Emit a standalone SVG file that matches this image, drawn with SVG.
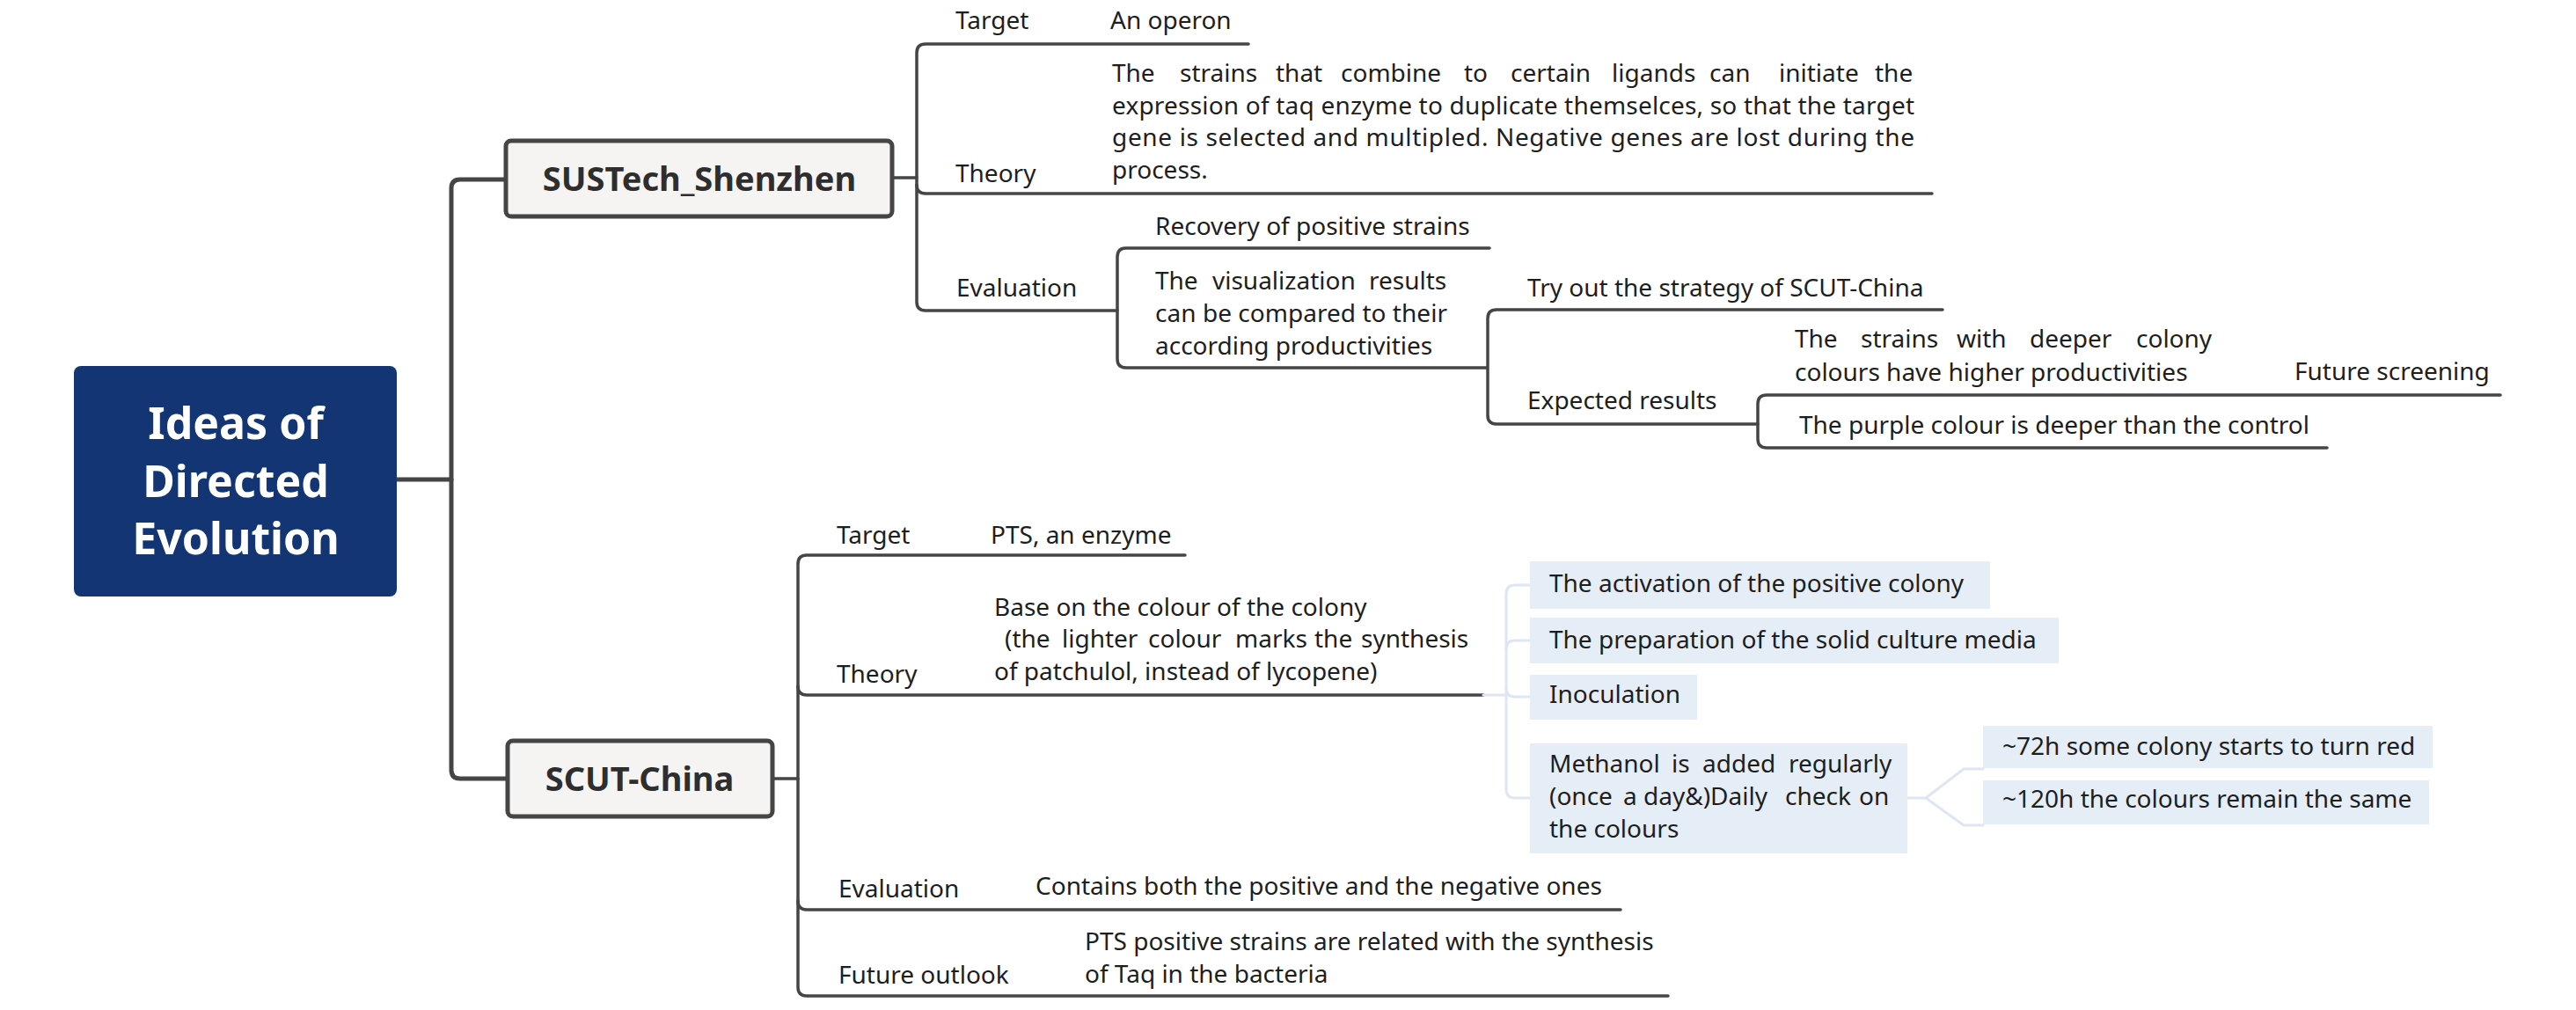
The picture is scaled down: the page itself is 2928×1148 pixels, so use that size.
<svg xmlns="http://www.w3.org/2000/svg" width="2928" height="1148" viewBox="0 0 2928 1148">
<style>
.t{font-family:"Noto Sans","Open Sans",sans-serif;font-size:28px;fill:#1e1e1e}
.b{font-family:"Noto Sans","Open Sans",sans-serif;font-weight:bold;font-size:38px;fill:#2e2e2e;text-anchor:middle}
.r{font-family:"Noto Sans","Open Sans",sans-serif;font-weight:bold;font-size:50px;fill:#ffffff;text-anchor:middle}
.ln{fill:none;stroke:#454545;stroke-width:3.5;stroke-linecap:round;stroke-linejoin:round}
.main{fill:none;stroke:#454545;stroke-width:5;stroke-linecap:round;stroke-linejoin:round}
.lb{fill:none;stroke:#dde6f2;stroke-width:3;stroke-linecap:round;stroke-linejoin:round}
.bx{fill:#f5f4f2;stroke:#454545;stroke-width:5}
.bl{fill:#e5edf7}
</style>
<rect width="2928" height="1148" fill="#ffffff"/>
<g id="connectors">
  <path class="main" d="M451,545 H513"/>
  <path class="main" d="M575,204 H523 Q513,204 513,214 V875 Q513,885 523,885 H577"/>
  <path class="ln" d="M1014,202 H1042"/>
  <path class="ln" d="M1419,50 H1052 Q1042,50 1042,60 V343 Q1042,353 1052,353 H1270"/>
  <path class="ln" d="M1042,210 Q1042,220 1052,220 H2196"/>
  <path class="ln" d="M1693,282 H1280 Q1270,282 1270,292 V408 Q1270,418 1280,418 H1690"/>
  <path class="ln" d="M2208,352 H1701 Q1691,352 1691,362 V472 Q1691,482 1701,482 H1998"/>
  <path class="ln" d="M2842,449 H2008 Q1998,449 1998,459 V499 Q1998,509 2008,509 H2645"/>
  <path class="ln" d="M878,885 H907"/>
  <path class="ln" d="M1347,631 H917 Q907,631 907,641 V1122 Q907,1132 917,1132 H1896"/>
  <path class="ln" d="M907,780 Q907,790 917,790 H1686"/>
  <path class="ln" d="M907,1024 Q907,1034 917,1034 H1842"/>
  <path class="lb" d="M1686,790 H1712"/>
  <path class="lb" d="M1739,665 H1722 Q1712,665 1712,675 V897 Q1712,907 1722,907 H1739"/>
  <path class="lb" d="M1712,738 Q1712,728 1722,728 H1739"/>
  <path class="lb" d="M1712,782 Q1712,792 1722,792 H1739"/>
  <path class="lb" d="M2168,907 H2189 L2232,874 H2254"/>
  <path class="lb" d="M2189,907 L2232,938 H2254"/>
</g>
<g id="root">
  <rect x="84" y="416" width="367" height="262" rx="8" fill="#133574"/>
  <text class="r" x="268" y="499">Ideas of</text>
  <text class="r" x="268" y="565">Directed</text>
  <text class="r" x="268" y="630">Evolution</text>
</g>
<g id="sustech">
  <rect class="bx" x="575" y="160" width="439" height="86" rx="6"/>
  <text class="b" x="795" y="217">SUSTech_Shenzhen</text>
</g>
<g id="scut">
  <rect class="bx" x="577" y="842" width="301" height="86" rx="6"/>
  <text class="b" x="727" y="899">SCUT-China</text>
</g>
<g id="sus-target">
  <text class="t" x="1086" y="33">Target</text>
  <text class="t" x="1262" y="33">An operon</text>
</g>
<g id="sus-theory">
  <text class="t" x="1086" y="207">Theory</text>
  <text class="t" y="93"><tspan x="1264">The</tspan><tspan x="1341">strains</tspan><tspan x="1450">that</tspan><tspan x="1524">combine</tspan><tspan x="1664">to</tspan><tspan x="1717">certain</tspan><tspan x="1832">ligands</tspan><tspan x="1943">can</tspan><tspan x="2022">initiate</tspan><tspan x="2131">the</tspan></text>
  <text class="t" x="1264" y="130" textLength="912" lengthAdjust="spacing">expression of taq enzyme to duplicate themselces, so that the target</text>
  <text class="t" x="1264" y="166" textLength="912" lengthAdjust="spacing">gene is selected and multipled. Negative genes are lost during the</text>
  <text class="t" x="1264" y="203">process.</text>
</g>
<g id="sus-evaluation">
  <text class="t" x="1087" y="337">Evaluation</text>
</g>
<g id="sus-recovery">
  <text class="t" x="1313" y="267">Recovery of positive strains</text>
</g>
<g id="sus-visual">
  <text class="t" y="329"><tspan x="1313">The</tspan><tspan x="1378">visualization</tspan><tspan x="1556">results</tspan></text>
  <text class="t" x="1313" y="366" textLength="332" lengthAdjust="spacing">can be compared to their</text>
  <text class="t" x="1313" y="403">according productivities</text>
</g>
<g id="sus-tryout">
  <text class="t" x="1736" y="337">Try out the strategy of SCUT-China</text>
</g>
<g id="sus-expected">
  <text class="t" x="1736" y="465">Expected results</text>
</g>
<g id="sus-strains">
  <text class="t" y="395"><tspan x="2040">The</tspan><tspan x="2115">strains</tspan><tspan x="2224">with</tspan><tspan x="2307">deeper</tspan><tspan x="2428">colony</tspan></text>
  <text class="t" x="2040" y="433">colours have higher productivities</text>
</g>
<g id="sus-future">
  <text class="t" x="2608" y="432">Future screening</text>
</g>
<g id="sus-purple">
  <text class="t" x="2045" y="493">The purple colour is deeper than the control</text>
</g>
<g id="scut-target">
  <text class="t" x="951" y="618">Target</text>
  <text class="t" x="1126" y="618">PTS, an enzyme</text>
</g>
<g id="scut-theory">
  <text class="t" x="951" y="776">Theory</text>
  <text class="t" x="1130" y="700">Base on the colour of the colony</text>
  <text class="t" y="736"><tspan x="1142">(the</tspan><tspan x="1207">lighter</tspan><tspan x="1305">colour</tspan><tspan x="1404">marks</tspan><tspan x="1494">the</tspan><tspan x="1547">synthesis</tspan></text>
  <text class="t" x="1130" y="773">of patchulol, instead of lycopene)</text>
</g>
<g id="scut-evaluation">
  <text class="t" x="953" y="1020">Evaluation</text>
  <text class="t" x="1177" y="1017">Contains both the positive and the negative ones</text>
</g>
<g id="scut-outlook">
  <text class="t" x="953" y="1118">Future outlook</text>
  <text class="t" x="1233" y="1080">PTS positive strains are related with the synthesis</text>
  <text class="t" x="1233" y="1117">of Taq in the bacteria</text>
</g>
<g id="step-activation">
  <rect class="bl" x="1739" y="638" width="523" height="54"/>
  <text class="t" x="1761" y="673">The activation of the positive colony</text>
</g>
<g id="step-preparation">
  <rect class="bl" x="1739" y="702" width="601" height="52"/>
  <text class="t" x="1761" y="737">The preparation of the solid culture media</text>
</g>
<g id="step-inoculation">
  <rect class="bl" x="1739" y="767" width="190" height="51"/>
  <text class="t" x="1761" y="799">Inoculation</text>
</g>
<g id="step-methanol">
  <rect class="bl" x="1739" y="845" width="429" height="125"/>
  <text class="t" y="878"><tspan x="1761">Methanol</tspan><tspan x="1900">is</tspan><tspan x="1935">added</tspan><tspan x="2033">regularly</tspan></text>
  <text class="t" y="915"><tspan x="1761">(once</tspan><tspan x="1845">a</tspan><tspan x="1868">day&amp;)Daily</tspan><tspan x="2029">check</tspan><tspan x="2113">on</tspan></text>
  <text class="t" x="1761" y="952">the colours</text>
</g>
<g id="step-72h">
  <rect class="bl" x="2254" y="825" width="511" height="48"/>
  <text class="t" x="2276" y="858">~72h some colony starts to turn red</text>
</g>
<g id="step-120h">
  <rect class="bl" x="2254" y="887" width="507" height="50"/>
  <text class="t" x="2276" y="918">~120h the colours remain the same</text>
</g>
</svg>
